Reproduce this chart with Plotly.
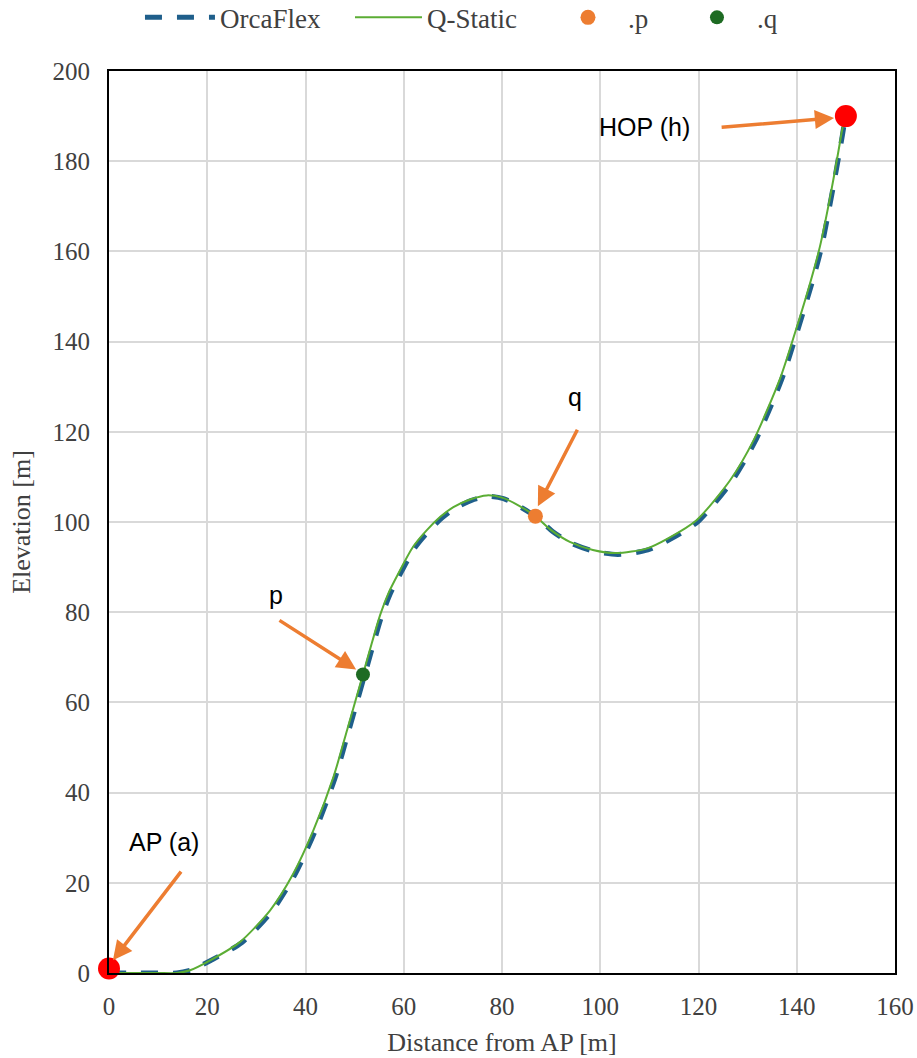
import plotly.graph_objects as go

# Q-Static riser profile (distance from AP vs elevation)
qs_x = [0, 5, 10, 13.8, 16.5, 20.6, 26.7, 32.8, 37.5, 41.6, 45.7, 48.5, 51.7, 53.1, 55.2,
        57.0, 58.9, 61.9, 64.7, 67.5, 70.1, 73.5, 76.9, 80.0, 83.5, 86.8, 90.0, 93.8, 98.5,
        103.3, 109.4, 114.0, 119.6, 126.4, 131.2, 136.6, 139.6, 142.7, 144.7, 146.8, 148.4,
        149.1, 149.7]
qs_y = [0, 0, 0, 0, 0.6, 2.8, 6.9, 13.9, 22.0, 31.6, 43.5, 54.0, 66.2, 71.6, 79.4,
        84.5, 88.6, 94.5, 98.2, 101.2, 103.3, 105.0, 105.9, 105.4, 103.6, 101.3, 98.2, 95.6, 93.8,
        93.1, 94.1, 96.5, 100.4, 109.2, 118.1, 131.8, 141.8, 152.9, 161.0, 172.1, 181.7,
        186.1, 189.5]

# OrcaFlex riser profile
of_x = [0, 5, 10, 13.8, 16.8, 20.9, 27.0, 33.1, 37.8, 41.9, 46.0, 48.8, 52.0, 53.4, 55.5,
        57.3, 59.2, 62.2, 65.0, 67.8, 70.4, 73.8, 77.2, 80.3, 83.8, 87.1, 90.3, 94.1, 98.8,
        103.6, 109.7, 114.3, 119.9, 126.7, 131.5, 136.9, 139.9, 143.0, 145.0, 147.0, 148.6,
        149.3, 149.8]
of_y = [0, 0, 0, 0, 0.7, 2.9, 6.7, 13.6, 21.7, 31.3, 43.2, 53.7, 65.9, 71.3, 79.1,
        84.2, 88.3, 94.2, 97.9, 100.9, 103.0, 104.8, 105.7, 105.2, 103.3, 101.0, 97.9, 95.3, 93.5,
        92.8, 93.8, 96.2, 100.1, 108.9, 117.8, 131.5, 141.5, 152.6, 160.7, 171.8, 181.4,
        185.8, 189.2]

# Marked points
p_x, p_y = [86.8], [101.3]
q_x, q_y = [51.7], [66.2]
end_x = [0.0, 150.0]
end_y = [1.0, 190.0]

# Callout labels and arrows: (text, text_x, text_y, tail_x, tail_y, head_x, head_y)
callouts = [
    ("AP (a)", 11.2, 29.0, 14.9, 22.8, 0.8, 2.8),
    ("p", 34.0, 83.8, 34.4, 78.4, 50.3, 67.3),
    ("q", 94.8, 127.7, 95.5, 120.8, 87.3, 103.5),
    ("HOP (h)", 109.1, 187.5, 124.4, 187.5, 147.6, 189.6),
]

ORANGE = "#ED7D31"
serif = "Liberation Serif"
sans = "Liberation Sans"
TXT = "#404040"

fig = go.Figure()
fig.add_trace(go.Scatter(
    x=of_x, y=of_y, mode="lines", name="OrcaFlex", legend="legend",
    line=dict(color="#1F5F8B", width=5, dash="17px,15px", shape="spline", smoothing=0.7),
))
fig.add_trace(go.Scatter(
    x=qs_x, y=qs_y, mode="lines", name="Q-Static", legend="legend2",
    line=dict(color="#5BAD34", width=2, shape="spline", smoothing=0.7),
))
fig.add_trace(go.Scatter(
    x=p_x, y=p_y, mode="markers", name=".p", legend="legend3",
    marker=dict(color=ORANGE, size=15), cliponaxis=False,
))
fig.add_trace(go.Scatter(
    x=q_x, y=q_y, mode="markers", name=".q", legend="legend4",
    marker=dict(color="#1E6B23", size=14), cliponaxis=False,
))
fig.add_trace(go.Scatter(
    x=end_x, y=end_y, mode="markers", showlegend=False,
    marker=dict(color="#FF0000", size=22), cliponaxis=False,
))

for text, tx, ty, axx, ayy, hx, hy in callouts:
    fig.add_annotation(
        x=hx, y=hy, ax=axx, ay=ayy, xref="x", yref="y", axref="x", ayref="y",
        text="", showarrow=True, arrowhead=2, arrowsize=1.1, arrowwidth=3.5,
        arrowcolor=ORANGE,
    )
    fig.add_annotation(
        x=tx, y=ty, xref="x", yref="y", text=text, showarrow=False,
        font=dict(family=sans, size=25, color="#000000"),
    )

axis_common = dict(
    showgrid=True, gridcolor="#D9D9D9", gridwidth=2,
    showline=True, linecolor="#000000", linewidth=2, mirror=True,
    zeroline=False, ticks="",
    title_font=dict(family=serif, size=26, color=TXT),
)
fig.update_xaxes(range=[0, 160], dtick=20, title_text="Distance from AP [m]",
                 ticklabelstandoff=10, title_standoff=14, **axis_common)
fig.update_yaxes(range=[0, 200], dtick=20, title_text="Elevation [m]",
                 ticklabelstandoff=12, title_standoff=14, **axis_common)
fig.update_xaxes(tickfont_family=serif, tickfont_size=25, tickfont_color=TXT)
fig.update_yaxes(tickfont_family=serif, tickfont_size=25, tickfont_color=TXT)

legend_font = dict(family=serif, size=27, color=TXT)
legend_common = dict(orientation="h", y=1.059, yanchor="middle", xanchor="left",
                     font=legend_font, bgcolor="rgba(0,0,0,0)")

fig.update_layout(
    width=917, height=1058,
    font=dict(family=serif, color=TXT),
    margin=dict(l=109, r=22, t=71, b=85, autoexpand=False),
    plot_bgcolor="#FFFFFF", paper_bgcolor="#FFFFFF",
    showlegend=True,
    legend=dict(x=0.0394, itemwidth=70, **legend_common),
    legend2=dict(x=0.3066, itemwidth=67, **legend_common),
    legend3=dict(x=0.5585, itemwidth=70, **legend_common),
    legend4=dict(x=0.7226, itemwidth=70, **legend_common),
)

fig.write_html("out.html")
